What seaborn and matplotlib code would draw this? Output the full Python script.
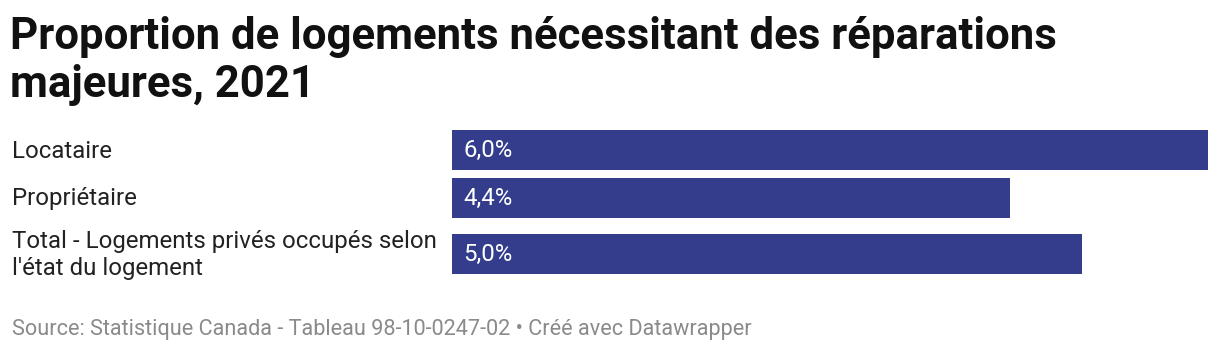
import matplotlib.pyplot as plt
import matplotlib.transforms as mtransforms
import numpy as np
import seaborn as sns

# Données
categories = ["Locataire", "Propriétaire", "Total - Logements privés occupés selon\nl'état du logement"]
valeurs = [6.0, 4.43, 5.0]
etiquettes = ["6,0%", "4,4%", "5,0%"]

titre = "Proportion de logements nécessitant des réparations\nmajeures, 2021"
source = "Source: Statistique Canada - Tableau 98-10-0247-02 • Créé avec Datawrapper"

sns.set_theme(style="white")
plt.rcParams["font.family"] = ["Roboto", "DejaVu Sans"]

W, H = 1220, 360
fig = plt.figure(figsize=(W / 100, H / 100), dpi=100)

# hauteur de ligne selon le nombre de lignes du libellé
hauteurs = np.array([48 + 16 * (c.count("\n")) for c in categories])
centres = np.cumsum(hauteurs) - hauteurs / 2
total = hauteurs.sum()

top_px = 126
ax = fig.add_axes([452 / W, 1 - (top_px + total) / H, (1208 - 452) / W, total / H])

sns.barplot(x=valeurs, y=centres, orient="h", native_scale=True, width=40 / 48,
            color="#333d8b", saturation=1, linewidth=0, ax=ax)
ax.set_xlim(0, 6.0)
ax.set_ylim(total, 0)
ax.axis("off")

trans = mtransforms.blended_transform_factory(fig.transFigure, ax.transData)
for c, y in zip(categories, centres):
    ax.text(12 / W, y + 1, c, transform=trans, ha="left", va="center", fontsize=17.3,
            color="#222222", linespacing=1.2)

for e, y in zip(etiquettes, centres):
    ax.annotate(e, xy=(0, y), xytext=(8, 0), textcoords="offset points",
                ha="left", va="center", fontsize=17.3, color="white")

fig.text(10 / W, 1 - 16 / H, titre, ha="left", va="top", fontsize=31.5,
         fontweight="bold", color="#111111", linespacing=1.17)
fig.text(12 / W, 1 - 330 / H, source, ha="left", va="center", fontsize=15.6,
         color="#8a8a8a")

fig.savefig("out.png", dpi=100)
